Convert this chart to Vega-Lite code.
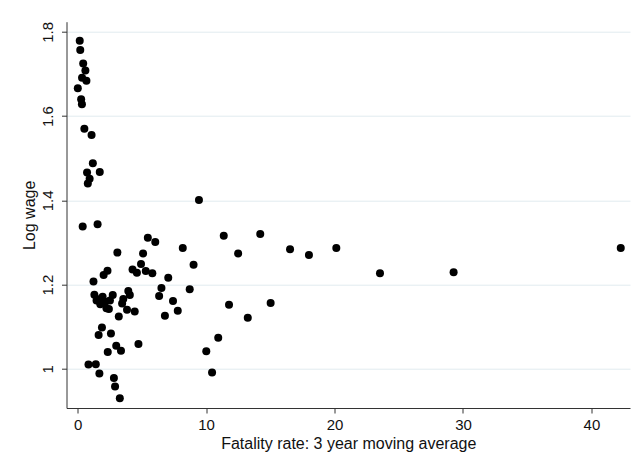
{
  "$schema": "https://vega.github.io/schema/vega-lite/v6.json",
  "autosize": "none",
  "width": 563.5,
  "height": 386.3,
  "padding": {"left": 66.5, "top": 21.7, "right": 10, "bottom": 61},
  "background": "white",
  "config": {
    "font": "Liberation Sans",
    "view": {"stroke": null},
    "axis": {
      "labelFont": "Liberation Sans",
      "titleFont": "Liberation Sans",
      "labelColor": "#111",
      "titleColor": "#111",
      "labelFontSize": 15,
      "titleFontSize": 16,
      "titleFontWeight": "normal",
      "domainColor": "#333",
      "tickColor": "#333",
      "tickSize": 5,
      "gridColor": "#e1ebef",
      "gridWidth": 1
    }
  },
  "data": {
    "values": [
      {"fatality": 0.17, "logwage": 1.779},
      {"fatality": 0.21, "logwage": 1.757},
      {"fatality": 0.44, "logwage": 1.725},
      {"fatality": 0.61, "logwage": 1.708},
      {"fatality": 0.35, "logwage": 1.691},
      {"fatality": 0.69, "logwage": 1.684},
      {"fatality": 0.02, "logwage": 1.666},
      {"fatality": 0.28, "logwage": 1.640},
      {"fatality": 0.34, "logwage": 1.628},
      {"fatality": 0.53, "logwage": 1.570},
      {"fatality": 1.09, "logwage": 1.555},
      {"fatality": 1.19, "logwage": 1.488},
      {"fatality": 0.74, "logwage": 1.466},
      {"fatality": 1.73, "logwage": 1.467},
      {"fatality": 0.94, "logwage": 1.451},
      {"fatality": 0.80, "logwage": 1.440},
      {"fatality": 0.40, "logwage": 1.338},
      {"fatality": 1.56, "logwage": 1.343},
      {"fatality": 9.45, "logwage": 1.401},
      {"fatality": 3.10, "logwage": 1.276},
      {"fatality": 5.47, "logwage": 1.311},
      {"fatality": 6.05, "logwage": 1.301},
      {"fatality": 11.38, "logwage": 1.316},
      {"fatality": 14.22, "logwage": 1.320},
      {"fatality": 8.19, "logwage": 1.287},
      {"fatality": 5.10, "logwage": 1.274},
      {"fatality": 12.50, "logwage": 1.274},
      {"fatality": 16.54, "logwage": 1.284},
      {"fatality": 18.01, "logwage": 1.270},
      {"fatality": 20.14, "logwage": 1.287},
      {"fatality": 42.28, "logwage": 1.287},
      {"fatality": 23.54, "logwage": 1.227},
      {"fatality": 29.27, "logwage": 1.229},
      {"fatality": 9.03, "logwage": 1.247},
      {"fatality": 4.94, "logwage": 1.249},
      {"fatality": 4.28, "logwage": 1.236},
      {"fatality": 4.62, "logwage": 1.228},
      {"fatality": 5.31, "logwage": 1.232},
      {"fatality": 5.82, "logwage": 1.227},
      {"fatality": 2.33, "logwage": 1.233},
      {"fatality": 2.03, "logwage": 1.223},
      {"fatality": 7.06, "logwage": 1.216},
      {"fatality": 1.24, "logwage": 1.207},
      {"fatality": 8.73, "logwage": 1.189},
      {"fatality": 6.53, "logwage": 1.192},
      {"fatality": 1.31, "logwage": 1.176},
      {"fatality": 2.74, "logwage": 1.175},
      {"fatality": 3.95, "logwage": 1.185},
      {"fatality": 4.07, "logwage": 1.175},
      {"fatality": 6.35, "logwage": 1.173},
      {"fatality": 1.95, "logwage": 1.171},
      {"fatality": 1.48, "logwage": 1.162},
      {"fatality": 1.60, "logwage": 1.165},
      {"fatality": 1.77, "logwage": 1.153},
      {"fatality": 2.16, "logwage": 1.159},
      {"fatality": 2.52, "logwage": 1.162},
      {"fatality": 3.56, "logwage": 1.166},
      {"fatality": 3.47, "logwage": 1.155},
      {"fatality": 7.43, "logwage": 1.161},
      {"fatality": 11.79, "logwage": 1.152},
      {"fatality": 15.03, "logwage": 1.156},
      {"fatality": 2.25, "logwage": 1.144},
      {"fatality": 2.44, "logwage": 1.142},
      {"fatality": 3.85, "logwage": 1.140},
      {"fatality": 4.45, "logwage": 1.136},
      {"fatality": 7.80, "logwage": 1.138},
      {"fatality": 3.21, "logwage": 1.124},
      {"fatality": 6.80, "logwage": 1.126},
      {"fatality": 13.25, "logwage": 1.121},
      {"fatality": 1.90, "logwage": 1.098},
      {"fatality": 1.64, "logwage": 1.080},
      {"fatality": 2.60, "logwage": 1.084},
      {"fatality": 10.95, "logwage": 1.074},
      {"fatality": 4.74, "logwage": 1.059},
      {"fatality": 3.01, "logwage": 1.055},
      {"fatality": 3.38, "logwage": 1.043},
      {"fatality": 2.35, "logwage": 1.040},
      {"fatality": 10.02, "logwage": 1.042},
      {"fatality": 0.85, "logwage": 1.010},
      {"fatality": 1.42, "logwage": 1.011},
      {"fatality": 10.47, "logwage": 0.991},
      {"fatality": 1.70, "logwage": 0.989},
      {"fatality": 2.83, "logwage": 0.978},
      {"fatality": 2.92, "logwage": 0.958},
      {"fatality": 3.29, "logwage": 0.930}
    ]
  },
  "mark": {"type": "circle", "color": "black", "opacity": 1, "size": 64},
  "encoding": {
    "x": {
      "field": "fatality",
      "type": "quantitative",
      "title": "Fatality rate: 3 year moving average",
      "scale": {"domain": [-0.86, 43.0], "nice": false, "zero": false},
      "axis": {
        "values": [0, 10, 20, 30, 40],
        "grid": false,
        "labelPadding": 4,
        "titlePadding": 3,
        "labelFlush": false
      }
    },
    "y": {
      "field": "logwage",
      "type": "quantitative",
      "title": "Log wage",
      "scale": {"domain": [0.907, 1.824], "nice": false, "zero": false},
      "axis": {
        "values": [1, 1.2, 1.4, 1.6, 1.8],
        "format": ".1~f",
        "grid": true,
        "labelAngle": -90,
        "labelAlign": "center",
        "labelBaseline": "bottom",
        "labelPadding": 6,
        "titlePadding": 3,
        "labelFlush": false
      }
    }
  }
}
